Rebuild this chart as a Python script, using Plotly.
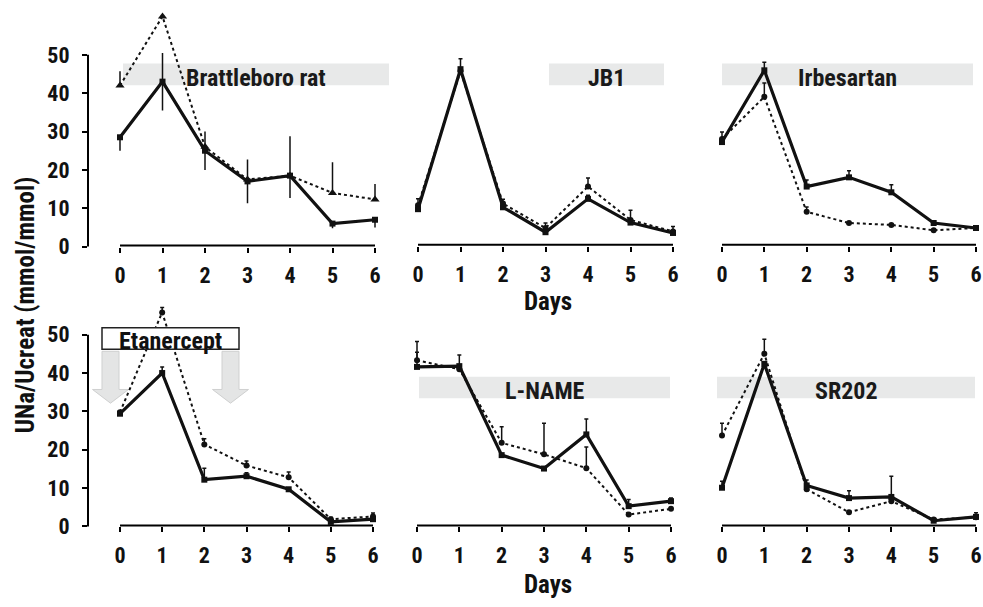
import plotly.graph_objects as go

# ---------------- data ----------------
days = [0, 1, 2, 3, 4, 5, 6]
day_labels = ["0", "1", "2", "3", "4", "5", "6"]
y_ticks = [0, 10, 20, 30, 40, 50]
y_tick_labels = ["0", "10", "20", "30", "40", "50"]

panel_titles = ["Brattleboro rat", "JB1", "Irbesartan", "Etanercept", "L-NAME", "SR202"]

brat_solid = [28.5, 43, 25, 17, 18.5, 6, 7]
brat_solid_up = [0, 7.5, 5, 5.7, 10.3, 0, 0]
brat_solid_dn = [3.5, 7.5, 5, 5.7, 5.8, 1.2, 2]
brat_dot = [42, 60, 26, 17.5, 18.5, 14, 12.3]
brat_dot_up = [3.7, 0, 0, 0, 0, 8, 4]
brat_dot_dn = [0, 0, 0, 0, 0, 0, 0]

jb1_solid = [9.5, 46, 10, 3.5, 12.2, 6, 3.3]
jb1_solid_up = [0, 2.7, 0, 0, 0.9, 0, 0]
jb1_dot = [10.5, 45.5, 11, 4.6, 15.4, 6.7, 3.7]
jb1_dot_up = [1.7, 0, 1.1, 1.3, 2.2, 2.5, 1.3]

irb_solid = [27, 45.7, 15.4, 17.8, 13.9, 5.9, 4.6]
irb_solid_up = [2.6, 2.1, 1.7, 1.7, 2, 0, 0]
irb_dot = [27.8, 38.8, 8.8, 5.9, 5.4, 4, 4.6]
irb_dot_up = [0, 3.6, 1.3, 0, 0, 0, 0]

eta_solid = [29.4, 40, 12.2, 13.1, 9.7, 1.2, 1.9]
eta_solid_up = [0, 1.6, 3, 0.9, 0, 0, 0]
eta_dot = [29.8, 55.8, 21.4, 15.9, 12.8, 1.9, 2.6]
eta_dot_up = [0, 1.3, 1.5, 1.2, 1.4, 0.5, 0.9]

lname_solid = [41.6, 41.8, 18.6, 15.1, 24, 5.3, 6.6]
lname_solid_up = [3.8, 2.9, 0, 0, 4, 1.7, 0.8]
lname_dot = [43.3, 41, 21.8, 18.8, 15.2, 3.1, 4.6]
lname_dot_up = [4.9, 0, 4.2, 8.1, 5.5, 0, 0]

sr_solid = [10.1, 42.4, 10.7, 7.4, 7.7, 1.5, 2.5]
sr_solid_up = [1.7, 0, 1.4, 1.9, 5.4, 0, 1.1]
sr_dot = [23.7, 45, 9.7, 3.7, 6.6, 1.8, 2.4]
sr_dot_up = [3.2, 3.8, 0, 0, 0, 0, 0]

zeros = [0, 0, 0, 0, 0, 0, 0]

# ---------------- layout helpers ----------------
W, H = 983, 607
FONT = "Roboto Condensed, Liberation Sans Narrow, Arial Narrow, DejaVu Sans Condensed, sans-serif"
TICK_SIZE = 22
LABEL_SIZE = 24
TITLE_SIZE = 25
Y_SCALE = 3.92      # px per unit
Y_MAX = 62


def fx(p):
    return p / W


def fy(p):
    return 1 - p / H


panels = [
    dict(solid=brat_solid, s_up=brat_solid_up, s_dn=brat_solid_dn,
         dot=brat_dot, d_up=brat_dot_up, d_dn=brat_dot_dn,
         dsym="triangle-up", dsize=8, cap=0, y0=252, x0=120, x6=375,
         dom=(88, 392), band=(123, 389, 65, 87), yaxis=True),
    dict(solid=jb1_solid, s_up=jb1_solid_up, s_dn=zeros,
         dot=jb1_dot, d_up=jb1_dot_up, d_dn=zeros,
         dsym="circle", dsize=6, cap=2, y0=251, x0=418, x6=673,
         dom=(405, 682), band=(549, 664, 65, 87), yaxis=False),
    dict(solid=irb_solid, s_up=irb_solid_up, s_dn=zeros,
         dot=irb_dot, d_up=irb_dot_up, d_dn=zeros,
         dsym="circle", dsize=6, cap=2, y0=251, x0=722, x6=976,
         dom=(710, 983), band=(722, 973, 65, 87), yaxis=False),
    dict(solid=eta_solid, s_up=eta_solid_up, s_dn=zeros,
         dot=eta_dot, d_up=eta_dot_up, d_dn=zeros,
         dsym="circle", dsize=6, cap=2, y0=538, x0=120, x6=373,
         dom=(88, 392), band=None, yaxis=True),
    dict(solid=lname_solid, s_up=lname_solid_up, s_dn=zeros,
         dot=lname_dot, d_up=lname_dot_up, d_dn=zeros,
         dsym="circle", dsize=6, cap=2, y0=538, x0=417, x6=671,
         dom=(405, 682), band=(419, 670, 385, 407), yaxis=False),
    dict(solid=sr_solid, s_up=sr_solid_up, s_dn=zeros,
         dot=sr_dot, d_up=sr_dot_up, d_dn=zeros,
         dsym="circle", dsize=6, cap=2, y0=538, x0=722, x6=976,
         dom=(710, 983), band=(717, 975, 385, 407), yaxis=False),
]

fig = go.Figure()
shapes = []
annotations = []
layout = {}

for i, p in enumerate(panels):
    n = i + 1
    xa = "x" if n == 1 else f"x{n}"
    ya = "y" if n == 1 else f"y{n}"
    s = (p["x6"] - p["x0"]) / 6.0
    r0 = (p["dom"][0] - p["x0"]) / s
    r1 = (p["dom"][1] - p["x0"]) / s
    ytop = p["y0"] - Y_MAX * Y_SCALE

    layout[f"xaxis{n}"] = dict(
        domain=[fx(p["dom"][0]), fx(p["dom"][1])], range=[r0, r1],
        anchor=ya, tickmode="array", tickvals=days, ticktext=day_labels,
        ticks="outside", ticklen=5, tickwidth=2, tickcolor="black",
        showline=False, showgrid=False, zeroline=False,
        tickfont=dict(family=FONT, size=TICK_SIZE, color="#111111", weight="bold"),
        ticklabelstandoff=4, ticklabeloverflow="allow",
    )
    yax = dict(domain=[fy(p["y0"]), fy(ytop)], range=[0, Y_MAX], anchor=xa,
               showgrid=False, zeroline=False, showline=False)
    if p["yaxis"]:
        yax.update(tickmode="array", tickvals=y_ticks, ticktext=y_tick_labels,
                   ticks="outside", ticklen=5, tickwidth=2, tickcolor="black",
                   tickfont=dict(family=FONT, size=TICK_SIZE, color="#111111", weight="bold"),
                   ticklabelstandoff=8, ticklabeloverflow="allow")
    else:
        yax.update(showticklabels=False, ticks="")
    layout[f"yaxis{n}"] = yax

    # dotted series
    fig.add_trace(go.Scatter(
        x=days, y=p["dot"], xaxis=xa, yaxis=ya, mode="lines+markers",
        line=dict(color="#111111", width=2, dash="dot"),
        marker=dict(symbol=p["dsym"], size=p["dsize"], color="#111111"),
        error_y=dict(type="data", symmetric=False, array=p["d_up"], arrayminus=p["d_dn"],
                     color="#111111", thickness=1.5, width=p["cap"]),
        cliponaxis=False, showlegend=False))
    # solid series
    fig.add_trace(go.Scatter(
        x=days, y=p["solid"], xaxis=xa, yaxis=ya, mode="lines+markers",
        line=dict(color="#111111", width=3.2),
        marker=dict(symbol="square", size=6, color="#111111"),
        error_y=dict(type="data", symmetric=False, array=p["s_up"], arrayminus=p["s_dn"],
                     color="#111111", thickness=1.5, width=p["cap"]),
        cliponaxis=False, showlegend=False))

    # axis lines
    shapes.append(dict(type="line", xref="paper", yref="paper",
                       x0=fx(p["x0"]), x1=fx(p["x6"]), y0=fy(p["y0"] - 1), y1=fy(p["y0"] - 1),
                       line=dict(color="black", width=2), layer="above"))
    if p["yaxis"]:
        shapes.append(dict(type="line", xref="paper", yref="paper",
                           x0=fx(p["dom"][0]), x1=fx(p["dom"][0]),
                           y0=fy(p["y0"]), y1=fy(p["y0"] - 50 * Y_SCALE),
                           line=dict(color="black", width=2), layer="above"))

    # grey band with title
    if p["band"] is not None:
        bx0, bx1, by0, by1 = p["band"]
        shapes.append(dict(type="rect", xref="paper", yref="paper",
                           x0=fx(bx0), x1=fx(bx1), y0=fy(by1), y1=fy(by0),
                           fillcolor="#e8e9e9", line=dict(width=0), layer="below"))
        annotations.append(dict(text=panel_titles[i], xref="paper", yref="paper",
                                x=fx((bx0 + bx1) / 2), y=fy((by0 + by1) / 2 + 3.5),
                                xanchor="center", yanchor="middle", showarrow=False,
                                font=dict(family=FONT, size=LABEL_SIZE, color="#1a1a1a",
                                          weight="bold")))

# Etanercept box and arrows
for ax0 in (102, 222):
    w = 17
    cx = ax0 + w / 2
    pts = [(ax0, 359), (ax0 + w, 359), (ax0 + w, 398), (cx + 18, 398),
           (cx, 412), (cx - 18, 398), (ax0, 398)]
    path = "M " + " L ".join(f"{fx(a):.5f},{fy(b):.5f}" for a, b in pts) + " Z"
    shapes.append(dict(type="path", xref="paper", yref="paper", path=path,
                       fillcolor="#e4e5e5", line=dict(color="#cfd0d0", width=1), layer="below"))
shapes.append(dict(type="rect", xref="paper", yref="paper",
                   x0=fx(102), x1=fx(239), y0=fy(357), y1=fy(335),
                   fillcolor="white", line=dict(color="#222222", width=1.5), layer="above"))
annotations.append(dict(text="Etanercept", xref="paper", yref="paper",
                        x=fx(170.5), y=fy(348), xanchor="center", yanchor="middle",
                        showarrow=False,
                        font=dict(family=FONT, size=LABEL_SIZE, color="#111111", weight="bold")))

# axis titles
for yy in (308, 597):
    annotations.append(dict(text="Days", xref="paper", yref="paper", x=fx(548), y=fy(yy),
                            xanchor="center", yanchor="middle", showarrow=False,
                            font=dict(family=FONT, size=TITLE_SIZE, color="#111111",
                                      weight="bold")))
annotations.append(dict(text="UNa/Ucreat (mmol/mmol)", xref="paper", yref="paper",
                        x=fx(25), y=fy(312), xanchor="center", yanchor="middle",
                        textangle=-90, showarrow=False,
                        font=dict(family=FONT, size=TITLE_SIZE, color="#111111", weight="bold")))

fig.update_layout(
    width=W, height=H, margin=dict(l=0, r=0, t=0, b=0),
    paper_bgcolor="white", plot_bgcolor="rgba(0,0,0,0)",
    shapes=shapes, annotations=annotations, showlegend=False,
    **layout,
)

fig.write_html("out.html", config={"displayModeBar": False},
               post_script="document.body.style.margin='0';document.body.style.overflow='hidden';")
